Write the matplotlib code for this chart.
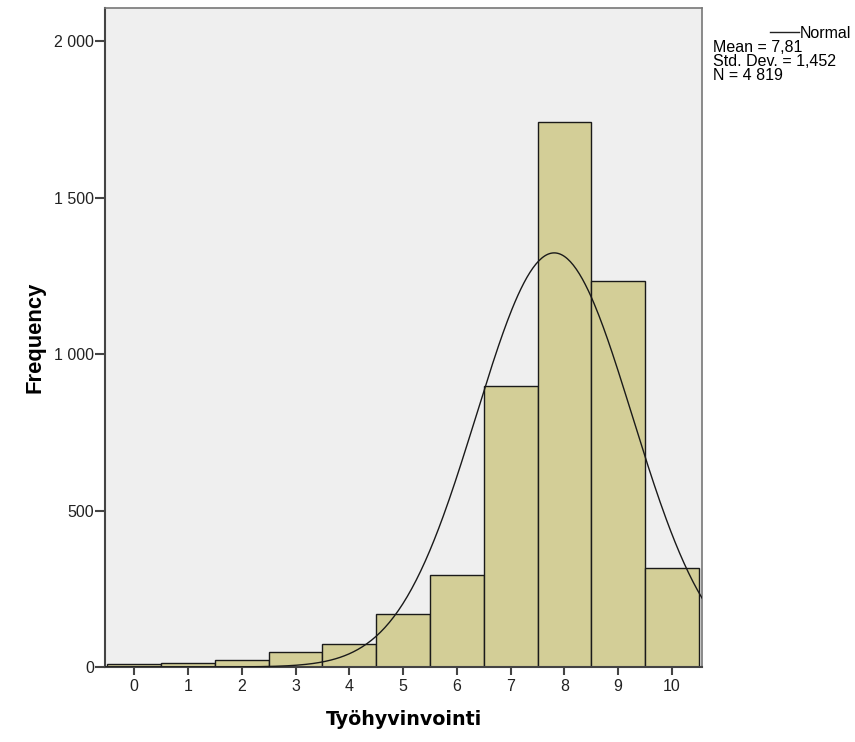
import matplotlib.pyplot as plt
import numpy as np

plt.rcParams['font.family'] = ['Liberation Sans', 'DejaVu Sans']

# histogram data (Työhyvinvointi scores 0..10)
scores = [0, 1, 2, 3, 4, 5, 6, 7, 8, 9, 10]
counts = [8, 12, 21, 48, 73, 171, 293, 898, 1743, 1235, 317]
y_ticks = [0, 500, 1000, 1500, 2000]
y_tick_labels = ["0", "500", "1 000", "1 500", "2 000"]

mean, std_dev, n_total = 7.81, 1.452, 4819
stats_lines = ["Mean = 7,81", "Std. Dev. = 1,452", "N = 4 819"]

fig = plt.figure(figsize=(8.55, 7.42), dpi=100)
ax = fig.add_axes([0.1228, 0.1011, 0.6983, 0.8881])
ax.set_facecolor("#efefef")

ax.bar(scores, counts, width=1.0, color="#d3ce97", edgecolor="#1a1a1a", linewidth=1.0, zorder=2)

# fitted normal curve
xs = np.linspace(-0.545, 10.56, 400)
pdf = np.exp(-0.5 * ((xs - mean) / std_dev) ** 2) / (std_dev * np.sqrt(2 * np.pi))
ax.plot(xs, n_total * pdf, color="#1a1a1a", linewidth=1.0, zorder=3)

ax.set_xlim(-0.545, 10.56)
ax.set_ylim(0, 2107)
ax.set_xticks(scores)
ax.set_xticklabels([str(s) for s in scores])
ax.set_yticks(y_ticks)
ax.set_yticklabels(y_tick_labels)
ax.tick_params(axis="both", direction="out", width=1.5, color="#444444",
               labelsize=11.5, labelcolor="#222222")
ax.tick_params(axis="y", length=7, pad=1)
ax.tick_params(axis="x", length=5.5, pad=3)

for side in ["left", "bottom"]:
    ax.spines[side].set_color("#444444")
    ax.spines[side].set_linewidth(1.5)
for side in ["top", "right"]:
    ax.spines[side].set_color("#777777")
    ax.spines[side].set_linewidth(1.2)

ax.set_ylabel("Frequency", fontsize=15.8, fontweight="bold", labelpad=6)
ax.set_xlabel("Työhyvinvointi", fontsize=13.7, fontweight="bold", labelpad=12,
              family=["DejaVu Sans"])

# legend-like annotation at the top right
fig.add_artist(plt.Line2D([770 / 855, 799 / 855], [1 - 32 / 742, 1 - 32 / 742],
                          color="#222222", linewidth=1.0))
fig.text(800 / 855, 1 - 33 / 742, "Normal", fontsize=11.5, va="center", ha="left")
for i, line in enumerate(stats_lines):
    fig.text(713 / 855, 1 - (47 + 14 * i) / 742, line, fontsize=11.5, va="center", ha="left")

fig.savefig("out.png", dpi=100)
